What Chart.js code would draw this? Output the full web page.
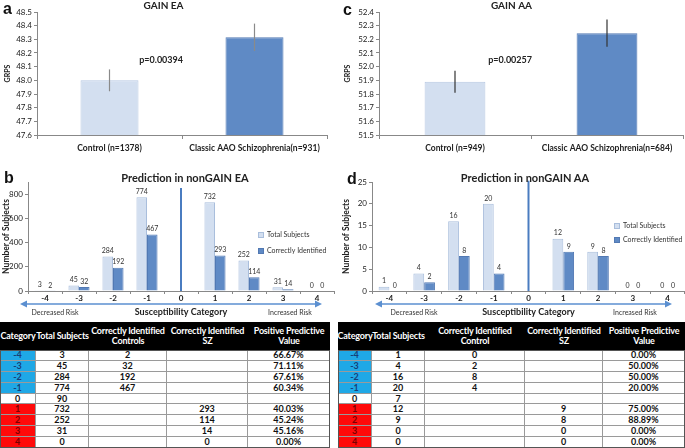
<!DOCTYPE html>
<html>
<head>
<meta charset="utf-8">
<script src="https://cdn.jsdelivr.net/npm/chart.js@4.4.0/dist/chart.umd.min.js"></script>
<style>
body{margin:0;width:685px;height:448px;position:relative;overflow:hidden;background:#fff;font-family:Lato,sans-serif;color:#111}
canvas{position:absolute}
.letter{position:absolute;font-weight:bold;font-size:16px;line-height:16px;font-family:Arial,"Liberation Sans",sans-serif}
.ptitle{position:absolute;font-weight:bold;font-size:11px;line-height:12px;text-align:center;color:#222}
.tbl{position:absolute;height:126px;background:#fff}
.tbl div{position:absolute;box-sizing:border-box;text-align:center;font-weight:bold}
.hd{color:#fff;font-size:9px;line-height:10px;display:flex;align-items:center;justify-content:center;white-space:nowrap;letter-spacing:-0.2px}
.bd{font-size:9px;border-right:1px solid #9a9a9a;border-bottom:1px solid #9a9a9a}
</style>
</head>
<body>
<canvas id="chartA" width="340" height="160" style="left:0;top:0"></canvas>
<canvas id="chartC" width="345" height="160" style="left:340px;top:0"></canvas>
<canvas id="chartB" width="340" height="152" style="left:0;top:168px"></canvas>
<canvas id="chartD" width="345" height="152" style="left:340px;top:168px"></canvas>
<div class="letter" style="left:3px;top:1px">a</div>
<div class="letter" style="left:343px;top:2px">c</div>
<div class="letter" style="left:4px;top:170px">b</div>
<div class="letter" style="left:347px;top:171px">d</div>
<div class="ptitle" style="left:100px;top:172px;width:170px">Prediction in nonGAIN EA</div>
<div class="ptitle" style="left:440px;top:172px;width:170px">Prediction in nonGAIN AA</div>
<div class="tbl" id="tableEA" style="left:0;top:322px;width:330px"></div>
<div class="tbl" id="tableAA" style="left:338px;top:322px;width:347px"></div>
<script>
// panel a / c : mean GRPS
var groupsEA = ['Control (n=1378)', 'Classic AAO Schizophrenia(n=931)'];
var grpsEA = [48.0, 48.315];
var errEA = [0.08, 0.1];
var groupsAA = ['Control (n=949)', 'Classic AAO Schizophrenia(n=684)'];
var grpsAA = [51.89, 52.245];
var errAA = [0.08, 0.1];

// panel b / d : prediction by susceptibility category
var categories = ['-4', '-3', '-2', '-1', '0', '1', '2', '3', '4'];
var totalEA = [3, 45, 284, 774, null, 732, 252, 31, 0];
var correctEA = [2, 32, 192, 467, null, 293, 114, 14, 0];
var totalAA = [1, 4, 16, 20, null, 12, 9, 0, 0];
var correctAA = [0, 2, 8, 4, null, 9, 8, 0, 0];

// tables
var tblTotalEA = ['3', '45', '284', '774', '90', '732', '252', '31', '0'];
var tblCtrlEA = ['2', '32', '192', '467', '', '', '', '', ''];
var tblSzEA = ['', '', '', '', '', '293', '114', '14', '0'];
var ppvEA = ['66.67%', '71.11%', '67.61%', '60.34%', '', '40.03%', '45.24%', '45.16%', '0.00%'];
var tblTotalAA = ['1', '4', '16', '20', '7', '12', '9', '0', '0'];
var tblCtrlAA = ['0', '2', '8', '4', '', '', '', '', ''];
var tblSzAA = ['', '', '', '', '', '9', '8', '0', '0'];
var ppvAA = ['0.00%', '50.00%', '50.00%', '20.00%', '', '75.00%', '88.89%', '0.00%', '0.00%'];

Chart.defaults.font.family = 'Lato';
Chart.defaults.color = '#222';

var errorBars = {
    id: 'errorBars',
    afterDatasetsDraw: function(chart, args, opts) {
        var ctx = chart.ctx, meta = chart.getDatasetMeta(0), y = chart.scales.y;
        var vals = chart.data.datasets[0].data;
        ctx.save();
        ctx.strokeStyle = opts.color;
        ctx.lineWidth = 1.2;
        meta.data.forEach(function(bar, i) {
            ctx.beginPath();
            ctx.moveTo(bar.x, y.getPixelForValue(vals[i] + opts.errors[i]));
            ctx.lineTo(bar.x, y.getPixelForValue(vals[i] - opts.errors[i]));
            ctx.stroke();
        });
        ctx.font = 'bold 9px Lato';
        ctx.fillStyle = '#222';
        ctx.textAlign = 'right';
        ctx.textBaseline = 'middle';
        ctx.fillText(opts.pText, (meta.data[0].x + meta.data[1].x) / 2 + 1, y.getPixelForValue(opts.pAt));
        ctx.restore();
    }
};

function grpsChart(id, title, labels, vals, errs, min, max, pText, pAt, yWidth, padRight, errColor) {
    new Chart(document.getElementById(id), {
        type: 'bar',
        data: {
            labels: labels,
            datasets: [{
                data: vals,
                backgroundColor: ['#d3dff0', '#5f8ac5'],
                borderColor: ['#b7c8e2', '#5279b3'],
                borderWidth: 1,
                barPercentage: 0.4,
                categoryPercentage: 1
            }]
        },
        options: {
            responsive: false,
            animation: false,
            layout: {padding: {right: padRight}},
            plugins: {
                legend: {display: false},
                tooltip: {enabled: false},
                title: {display: true, text: title, font: {size: 10, weight: 'bold'}, color: '#222', padding: {top: 0, bottom: 0}},
                errorBars: {errors: errs, color: errColor, pText: pText, pAt: pAt}
            },
            scales: {
                x: {
                    grid: {offset: true, drawOnChartArea: false, tickLength: 4, color: '#888'},
                    border: {color: '#888'},
                    ticks: {font: {size: 8.5, weight: 'bold'}, color: '#222', padding: 4, maxRotation: 0},
                    afterFit: function(s) { s.height = 25; }
                },
                y: {
                    min: min, max: max,
                    ticks: {stepSize: 0.1, font: {size: 8}, color: '#222', padding: 2,
                        callback: function(v) { return v.toFixed(1); }},
                    grid: {drawOnChartArea: false, tickLength: 3, color: '#888'},
                    border: {color: '#888'},
                    title: {display: true, text: 'GRPS', font: {size: 7, weight: 'bold'}, padding: 4},
                    afterFit: function(s) { s.width = yWidth; }
                }
            }
        },
        plugins: [errorBars]
    });
}

grpsChart('chartA', 'GAIN EA', groupsEA, grpsEA, errEA, 47.6, 48.5, 'p=0.00394', 48.15, 37, 13, '#8a8a8a');
grpsChart('chartC', 'GAIN AA', groupsAA, grpsAA, errAA, 51.5, 52.4, 'p=0.00257', 52.05, 39, 2, '#333');

var predExtras = {
    id: 'predExtras',
    afterDatasetsDraw: function(chart, args, o) {
        var ctx = chart.ctx, x = chart.scales.x, y = chart.scales.y;
        ctx.save();
        // values above bars
        ctx.font = '7px Lato';
        ctx.fillStyle = '#333';
        ctx.textAlign = 'center';
        ctx.textBaseline = 'bottom';
        chart.data.datasets.forEach(function(ds, di) {
            chart.getDatasetMeta(di).data.forEach(function(bar, i) {
                if (ds.data[i] === null) return;
                ctx.fillText(ds.data[i], bar.x, bar.y - 2);
            });
        });
        // divider at category 0
        var cx = x.getPixelForValue(4);
        ctx.strokeStyle = '#4a7cc0';
        ctx.lineWidth = 2;
        ctx.beginPath();
        ctx.moveTo(cx, y.getPixelForValue(0));
        ctx.lineTo(cx, y.getPixelForValue(o.dividerTop));
        ctx.stroke();
        // legend
        ctx.font = '7px Lato';
        ctx.textAlign = 'left';
        ctx.textBaseline = 'middle';
        chart.data.datasets.forEach(function(ds, di) {
            var ly = o.legendY + di * o.legendGap;
            ctx.fillStyle = ds.backgroundColor;
            ctx.fillRect(o.legendX, ly - 3, 6, 6);
            ctx.strokeStyle = ds.borderColor;
            ctx.lineWidth = 1;
            ctx.strokeRect(o.legendX + 0.5, ly - 2.5, 5, 5);
            ctx.fillStyle = '#333';
            ctx.fillText(ds.label, o.legendX + 9, ly);
        });
        // risk arrow under the axis
        var ay = 136;
        ctx.strokeStyle = '#5b8fd0';
        ctx.fillStyle = '#5b8fd0';
        ctx.lineWidth = 1.5;
        ctx.beginPath();
        ctx.moveTo(o.arrow[0] + 4, ay);
        ctx.lineTo(o.arrow[1] - 4, ay);
        ctx.stroke();
        [[o.arrow[0], 1], [o.arrow[1], -1]].forEach(function(a) {
            ctx.beginPath();
            ctx.moveTo(a[0], ay);
            ctx.lineTo(a[0] + a[1] * 7, ay - 3.5);
            ctx.lineTo(a[0] + a[1] * 7, ay + 3.5);
            ctx.closePath();
            ctx.fill();
        });
        ctx.fillStyle = '#333';
        ctx.textAlign = 'center';
        ctx.font = '7px Lato';
        ctx.fillText('Decreased Risk', o.decX, 145);
        ctx.fillText('Increased Risk', o.incX, 145);
        ctx.font = 'bold 9px Lato';
        ctx.fillStyle = '#222';
        ctx.fillText('Susceptibility Category', x.getPixelForValue(4), 144);
        ctx.restore();
    }
};

function predChart(id, total, correct, max, step, yWidth, padRight, extras) {
    new Chart(document.getElementById(id), {
        type: 'bar',
        data: {
            labels: categories,
            datasets: [{
                label: 'Total Subjects',
                data: total,
                backgroundColor: '#d3dff0',
                borderColor: '#a9bedc',
                borderWidth: 1,
                barPercentage: 1,
                categoryPercentage: 0.62
            }, {
                label: 'Correctly Identified',
                data: correct,
                backgroundColor: '#5f8ac5',
                borderColor: '#5279b3',
                borderWidth: 1,
                barPercentage: 1,
                categoryPercentage: 0.62
            }]
        },
        options: {
            responsive: false,
            animation: false,
            layout: {padding: {top: 14, right: padRight}},
            plugins: {
                legend: {display: false},
                tooltip: {enabled: false},
                predExtras: extras
            },
            scales: {
                x: {
                    grid: {offset: true, drawOnChartArea: false, tickLength: 3, color: '#888'},
                    border: {color: '#888'},
                    ticks: {font: {size: 8, weight: 'bold'}, color: '#222', padding: 0, maxRotation: 0},
                    afterFit: function(s) { s.height = 29; }
                },
                y: {
                    min: 0, max: max,
                    ticks: {stepSize: step, font: {size: 8}, color: '#222', padding: 2},
                    grid: {drawOnChartArea: false, tickLength: 3, color: '#888'},
                    border: {color: '#888'},
                    title: {display: true, text: 'Number of Subjects', font: {size: 8.5, weight: 'bold'}, padding: 1},
                    afterFit: function(s) { s.width = yWidth; }
                }
            }
        },
        plugins: [predExtras]
    });
}

predChart('chartB', totalEA, correctEA, 900, 100, 28, 6,
    {dividerTop: 850, legendX: 258, legendY: 67, legendGap: 16, arrow: [20, 322], decX: 55, incX: 290});
predChart('chartD', totalAA, correctAA, 25, 5, 32, 0,
    {dividerTop: 25.3, legendX: 274, legendY: 58, legendGap: 14, arrow: [35, 332], decX: 74, incX: 295});

function buildTable(id, heads, cols, edges) {
    var el = document.getElementById(id);
    var html = '<div style="left:0;top:0;width:' + edges[edges.length - 1] + 'px;height:28px;background:#000"></div>';
    heads.forEach(function(h, c) {
        html += '<div class="hd" style="left:' + edges[c] + 'px;top:0;width:' + (edges[c + 1] - edges[c]) + 'px;height:28px">' + h + '</div>';
    });
    var rowH = 98 / 9;
    for (var r = 0; r < categories.length; r++) {
        var top = 28 + r * rowH;
        var k = +categories[r];
        var bg = k < 0 ? '#1fa8e6' : (k > 0 ? '#ff0a0a' : '#fff');
        var fg = k < 0 ? '#173f78' : (k > 0 ? '#7a0000' : '#111');
        var cells = [categories[r]].concat(cols.map(function(col) { return col[r]; }));
        cells.forEach(function(v, c) {
            var style = 'left:' + edges[c] + 'px;top:' + top.toFixed(2) + 'px;width:' + (edges[c + 1] - edges[c]) + 'px;height:' + rowH.toFixed(2) + 'px;line-height:' + rowH.toFixed(2) + 'px';
            if (c === 0) style += ';background:' + bg + ';color:' + fg;
            html += '<div class="bd" style="' + style + '">' + v + '</div>';
        });
    }
    html += '<div style="left:0;top:28px;width:' + edges[edges.length - 1] + 'px;height:98px;border:1px solid #555"></div>';
    el.innerHTML = html;
}

buildTable('tableEA',
    ['Category', 'Total Subjects', 'Correctly Identified<br>Controls', 'Correctly Identified<br>SZ', 'Positive Predictive<br>Value'],
    [tblTotalEA, tblCtrlEA, tblSzEA, ppvEA], [0, 36, 89, 167, 248, 330]);
buildTable('tableAA',
    ['Category', 'Total Subjects', 'Correctly Identified<br>Control', 'Correctly Identified<br>SZ', 'Positive Predictive<br>Value'],
    [tblTotalAA, tblCtrlAA, tblSzAA, ppvAA], [0, 34, 87, 187, 265, 347]);
</script>
</body>
</html>
